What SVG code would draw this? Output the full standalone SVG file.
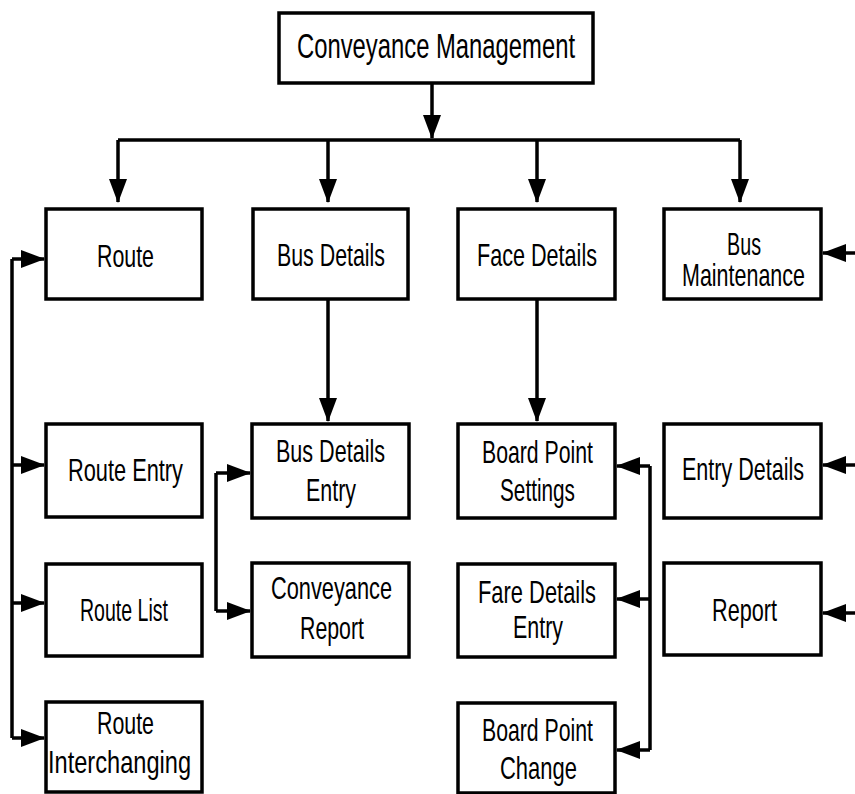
<svg xmlns="http://www.w3.org/2000/svg" width="855" height="794" viewBox="0 0 855 794">
<style>
.box{fill:#fff;stroke:#000;stroke-width:3.5}
.t{font-family:"Liberation Sans",Arial,sans-serif;font-size:32px;fill:#000;text-anchor:middle}
.title{font-size:35px}
.c{fill:none;stroke:#000;stroke-width:3.5}
</style>
<defs>
<marker id="ah" markerUnits="userSpaceOnUse" markerWidth="24" markerHeight="20" refX="23" refY="9" orient="auto">
<path d="M0,0 L24,9 L0,18 z" fill="#000"/>
</marker>
</defs>
<rect width="855" height="794" fill="#fff"/>
<g id="connectors">
<path class="c" d="M432,83 V138" marker-end="url(#ah)"/>
<path class="c" d="M118,140 H740"/>
<path class="c" d="M118,140 V202" marker-end="url(#ah)"/>
<path class="c" d="M328,140 V202" marker-end="url(#ah)"/>
<path class="c" d="M537,140 V202" marker-end="url(#ah)"/>
<path class="c" d="M740,140 V202" marker-end="url(#ah)"/>
<path class="c" d="M328,299 V421" marker-end="url(#ah)"/>
<path class="c" d="M537,299 V421" marker-end="url(#ah)"/>
<path class="c" d="M12,259 V738"/>
<path class="c" d="M12,259 H44" marker-end="url(#ah)"/>
<path class="c" d="M12,465 H44" marker-end="url(#ah)"/>
<path class="c" d="M12,603 H44" marker-end="url(#ah)"/>
<path class="c" d="M12,738 H44" marker-end="url(#ah)"/>
<path class="c" d="M216,473 V611"/>
<path class="c" d="M216,473 H250" marker-end="url(#ah)"/>
<path class="c" d="M216,611 H250" marker-end="url(#ah)"/>
<path class="c" d="M650,466 V750"/>
<path class="c" d="M650,466 H617" marker-end="url(#ah)"/>
<path class="c" d="M650,599 H617" marker-end="url(#ah)"/>
<path class="c" d="M650,750 H617" marker-end="url(#ah)"/>
<path class="c" d="M855,253 H823" marker-end="url(#ah)"/>
<path class="c" d="M855,465 H823" marker-end="url(#ah)"/>
<path class="c" d="M855,613 H823" marker-end="url(#ah)"/>
</g>
<g id="n-title"><rect class="box" x="279" y="13" width="314" height="70"/><text class="t title" x="436" y="58" textLength="278" lengthAdjust="spacingAndGlyphs">Conveyance Management</text></g>
<g id="n-route"><rect class="box" x="46" y="209" width="156" height="90"/><text class="t" x="125.5" y="267" textLength="57" lengthAdjust="spacingAndGlyphs">Route</text></g>
<g id="n-busdetails"><rect class="box" x="253" y="209" width="155" height="90"/><text class="t" x="331" y="266" textLength="108" lengthAdjust="spacingAndGlyphs">Bus Details</text></g>
<g id="n-facedetails"><rect class="box" x="458" y="209" width="157" height="90"/><text class="t" x="537" y="266" textLength="120" lengthAdjust="spacingAndGlyphs">Face Details</text></g>
<g id="n-busmaint"><rect class="box" x="664" y="209" width="157" height="90"/><text class="t" x="744" y="255" textLength="34" lengthAdjust="spacingAndGlyphs">Bus</text><text class="t" x="743.5" y="286" textLength="123" lengthAdjust="spacingAndGlyphs">Maintenance</text></g>
<g id="n-routeentry"><rect class="box" x="46" y="424" width="156" height="93"/><text class="t" x="125.5" y="481" textLength="115" lengthAdjust="spacingAndGlyphs">Route Entry</text></g>
<g id="n-busdetailsentry"><rect class="box" x="252" y="424" width="157" height="94"/><text class="t" x="330.5" y="462" textLength="109" lengthAdjust="spacingAndGlyphs">Bus Details</text><text class="t" x="331" y="501" textLength="50" lengthAdjust="spacingAndGlyphs">Entry</text></g>
<g id="n-boardpointsettings"><rect class="box" x="458" y="424" width="157" height="94"/><text class="t" x="537.5" y="463" textLength="111" lengthAdjust="spacingAndGlyphs">Board Point</text><text class="t" x="537.5" y="501" textLength="75" lengthAdjust="spacingAndGlyphs">Settings</text></g>
<g id="n-entrydetails"><rect class="box" x="664" y="424" width="157" height="94"/><text class="t" x="743" y="480" textLength="122" lengthAdjust="spacingAndGlyphs">Entry Details</text></g>
<g id="n-routelist"><rect class="box" x="46" y="564" width="156" height="92"/><text class="t" x="124" y="621" textLength="88" lengthAdjust="spacingAndGlyphs">Route List</text></g>
<g id="n-convreport"><rect class="box" x="252" y="563" width="157" height="94"/><text class="t" x="331.5" y="599" textLength="121" lengthAdjust="spacingAndGlyphs">Conveyance</text><text class="t" x="332" y="639" textLength="64" lengthAdjust="spacingAndGlyphs">Report</text></g>
<g id="n-faredetailsentry"><rect class="box" x="458" y="564" width="157" height="93"/><text class="t" x="537" y="603" textLength="118" lengthAdjust="spacingAndGlyphs">Fare Details</text><text class="t" x="538" y="638" textLength="50" lengthAdjust="spacingAndGlyphs">Entry</text></g>
<g id="n-report"><rect class="box" x="664" y="563" width="157" height="92"/><text class="t" x="744.5" y="621" textLength="65" lengthAdjust="spacingAndGlyphs">Report</text></g>
<g id="n-routeinterchanging"><rect class="box" x="46" y="702" width="156" height="90"/><text class="t" x="125.5" y="734" textLength="57" lengthAdjust="spacingAndGlyphs">Route</text><text class="t" x="119.5" y="773" textLength="143" lengthAdjust="spacingAndGlyphs">Interchanging</text></g>
<g id="n-boardpointchange"><rect class="box" x="458" y="703" width="157" height="90"/><text class="t" x="537.5" y="741" textLength="111" lengthAdjust="spacingAndGlyphs">Board Point</text><text class="t" x="538.5" y="779" textLength="77" lengthAdjust="spacingAndGlyphs">Change</text></g>
</svg>
